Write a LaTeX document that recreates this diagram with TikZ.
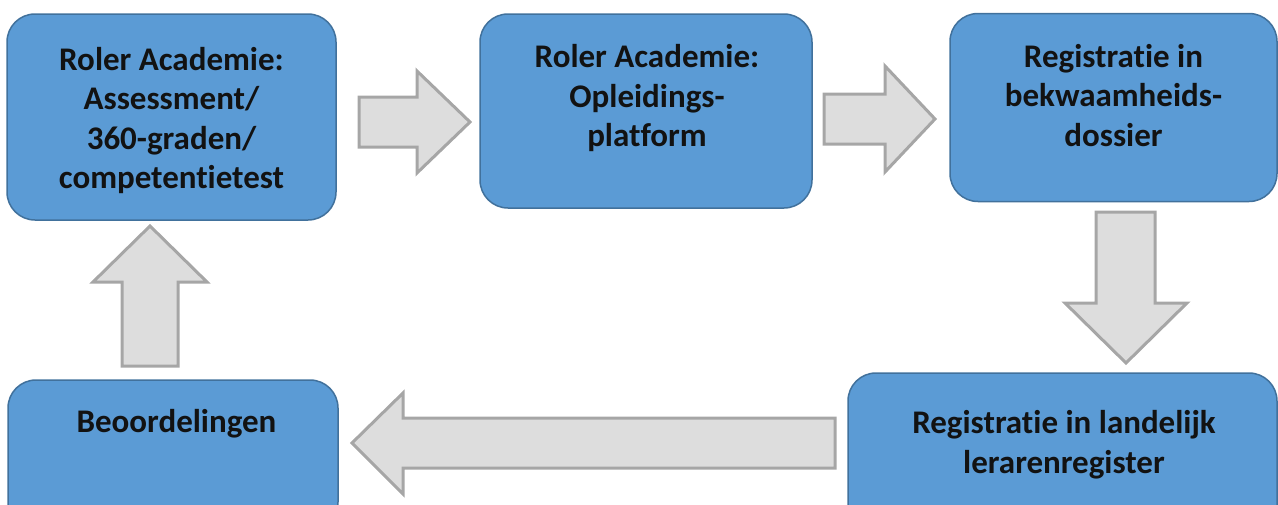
\documentclass[tikz,border=0pt]{standalone}
\usepackage{fontspec}
\setmainfont[Ligatures=NoCommon]{Carlito}
\definecolor{boxfill}{HTML}{5B9BD5}
\definecolor{boxline}{HTML}{41719C}
\definecolor{arrowfill}{HTML}{DDDDDD}
\definecolor{arrowline}{HTML}{A6A6A6}
\begin{document}
\begin{tikzpicture}[x=1pt,y=-1pt,
  box/.style={draw=boxline, fill=boxfill, line width=1.5pt, rounded corners=28pt, inner sep=0pt},
  lbl/.style={font=\fontsize{33}{39.5}\selectfont\bfseries, align=center, anchor=base, inner sep=0pt, text=black!93},
  blockarrow/.style={draw=arrowline, fill=arrowfill, line width=3pt, line join=miter}]
\useasboundingbox (0,0) rectangle (1278,504);
\clip (0,0) rectangle (1278,504);

% process steps
\node[box, minimum width=329pt, minimum height=206pt] (assess) at (171.5,117) {};
\node[box, minimum width=332pt, minimum height=194pt] (platform) at (646,111) {};
\node[box, minimum width=327pt, minimum height=188pt] (dossier) at (1113.5,107.5) {};
\node[box, minimum width=429pt, minimum height=160pt] (register) at (1062.5,453) {};
\node[box, minimum width=330pt, minimum height=150pt] (review) at (173,455) {};

% step labels (anchored at the baseline of their last line)
\node[lbl] (assessT) at (171.5,188.5) {Roler Academie:\\Assessment/\\360-graden/\\competentietest};
\node[lbl] (platformT) at (647,146.5) {Roler Academie:\\Opleidings-\\platform};
\node[lbl] (dossierT) at (1113.5,146) {Registratie in\\bekwaamheids-\\dossier};
\node[lbl] (registerT) at (1064,473) {Registratie in landelijk\\lerarenregister};
\node[lbl] (reviewT) at (176.5,432) {Beoordelingen};

% block arrows between the steps
\draw[blockarrow] (359,97) -- (417,97) -- (417,71) -- (470,122) -- (417,173) -- (417,147) -- (359,147) -- cycle;
\draw[blockarrow] (824,94) -- (885,94) -- (885,66) -- (935,119) -- (885,172) -- (885,144) -- (824,144) -- cycle;
\draw[blockarrow] (1096,212) -- (1155,212) -- (1155,303) -- (1187,303) -- (1126,363) -- (1065,303) -- (1096,303) -- cycle;
\draw[blockarrow] (835,418) -- (403,418) -- (403,393) -- (352,443) -- (403,494) -- (403,468) -- (835,468) -- cycle;
\draw[blockarrow] (122,366) -- (122,282) -- (93,282) -- (150,226) -- (207,282) -- (178,282) -- (178,366) -- cycle;
\end{tikzpicture}
\end{document}
